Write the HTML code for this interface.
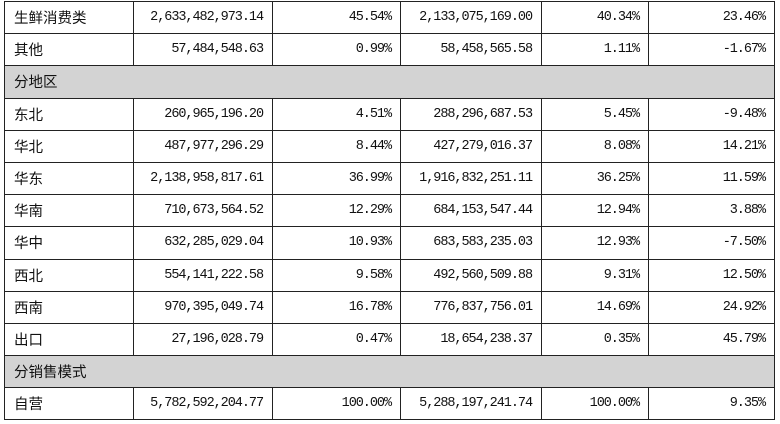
<!DOCTYPE html>
<html><head><meta charset="utf-8"><style>
body{margin:0;width:780px;height:424px;background:#fff;overflow:hidden}
table{position:absolute;left:4px;top:1px;border-collapse:collapse;table-layout:fixed}
tr{height:32.2px}
td{border:1px solid #222;height:32.2px;padding:0 9px;box-sizing:border-box;font-family:"Liberation Mono","Noto Serif CJK SC",monospace;font-size:13.5px;letter-spacing:-1.05px;text-align:right;color:#111}
td:first-child{text-align:left;font-family:"Noto Sans CJK SC",sans-serif;font-size:14.5px;letter-spacing:0;padding-left:9px}
tr.g td{background:#d3d3d3}
</style></head><body>
<table>
<colgroup><col style="width:129px"><col style="width:139px"><col style="width:128px"><col style="width:141px"><col style="width:107px"><col style="width:126px"></colgroup>
<tr><td>生鲜消费类</td><td>2,633,482,973.14</td><td>45.54%</td><td>2,133,075,169.00</td><td>40.34%</td><td>23.46%</td></tr>
<tr><td>其他</td><td>57,484,548.63</td><td>0.99%</td><td>58,458,565.58</td><td>1.11%</td><td>-1.67%</td></tr>
<tr class="g"><td colspan="6" style="text-align:left;font-family:'Noto Sans CJK SC',sans-serif;font-size:14.5px;letter-spacing:0">分地区</td></tr>
<tr><td>东北</td><td>260,965,196.20</td><td>4.51%</td><td>288,296,687.53</td><td>5.45%</td><td>-9.48%</td></tr>
<tr><td>华北</td><td>487,977,296.29</td><td>8.44%</td><td>427,279,016.37</td><td>8.08%</td><td>14.21%</td></tr>
<tr><td>华东</td><td>2,138,958,817.61</td><td>36.99%</td><td>1,916,832,251.11</td><td>36.25%</td><td>11.59%</td></tr>
<tr><td>华南</td><td>710,673,564.52</td><td>12.29%</td><td>684,153,547.44</td><td>12.94%</td><td>3.88%</td></tr>
<tr><td>华中</td><td>632,285,029.04</td><td>10.93%</td><td>683,583,235.03</td><td>12.93%</td><td>-7.50%</td></tr>
<tr><td>西北</td><td>554,141,222.58</td><td>9.58%</td><td>492,560,509.88</td><td>9.31%</td><td>12.50%</td></tr>
<tr><td>西南</td><td>970,395,049.74</td><td>16.78%</td><td>776,837,756.01</td><td>14.69%</td><td>24.92%</td></tr>
<tr><td>出口</td><td>27,196,028.79</td><td>0.47%</td><td>18,654,238.37</td><td>0.35%</td><td>45.79%</td></tr>
<tr class="g"><td colspan="6" style="text-align:left;font-family:'Noto Sans CJK SC',sans-serif;font-size:14.5px;letter-spacing:0">分销售模式</td></tr>
<tr><td>自营</td><td>5,782,592,204.77</td><td>100.00%</td><td>5,288,197,241.74</td><td>100.00%</td><td>9.35%</td></tr>
</table>
</body></html>
